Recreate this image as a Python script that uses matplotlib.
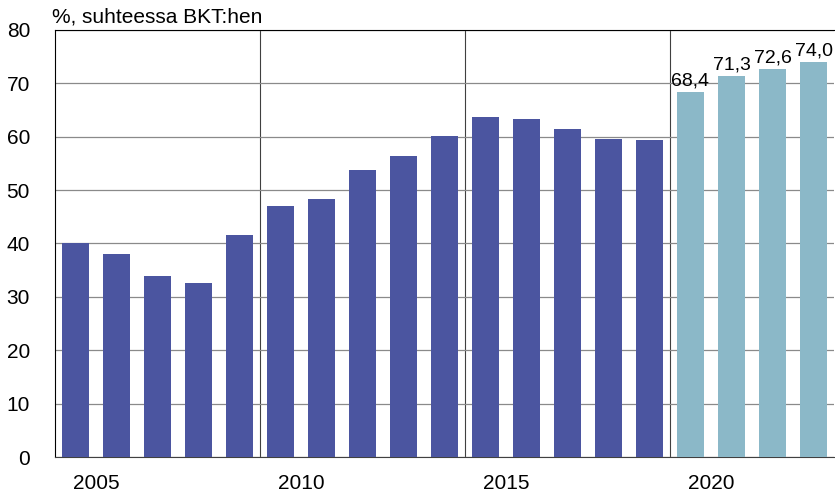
import matplotlib
matplotlib.use("Agg")
import matplotlib.pyplot as plt

years = list(range(2005, 2024))
values = [40.0, 38.0, 33.9, 32.6, 41.6, 47.0, 48.3, 53.7, 56.3, 60.1,
          63.7, 63.3, 61.4, 59.6, 59.4, 68.4, 71.3, 72.6, 74.0]
forecast_start = 2020
tick_years = [2005, 2010, 2015, 2020]
label_texts = ["68,4", "71,3", "72,6", "74,0"]
title = "%, suhteessa BKT:hen"

plt.rcParams['font.family'] = ['Liberation Sans', 'DejaVu Sans']

fig = plt.figure(figsize=(8.35, 4.94), dpi=100)
ax = fig.add_axes([55/835, 37/494, 779/835, 427/494])

dark = "#4B55A0"
light = "#8BB8C8"
xs = list(range(len(years)))
colors = [light if y >= forecast_start else dark for y in years]
ax.bar(xs, values, width=0.68, color=colors, zorder=3)

ax.set_xlim(-0.5, 18.5)
ax.set_ylim(0, 80)
ax.set_yticks(range(0, 81, 10))
ax.yaxis.grid(True, color="#8a8a8a", linewidth=0.9, zorder=0)
ax.tick_params(axis='y', length=0, labelsize=15, pad=18)
ax.set_xticks([])

# vertical separators between year groups
for y in tick_years[1:]:
    ax.axvline(years.index(y) - 0.5, color="#404040", linewidth=0.8, zorder=1)

for y in tick_years:
    i = years.index(y)
    ax.text(i + 0.5, -3.2, str(y), ha='center', va='top', fontsize=15)

for y, t in zip(years[-4:], label_texts):
    i = years.index(y)
    ax.text(i, values[i] + 0.5, t, ha='center', va='bottom', fontsize=14, zorder=4)

ax.spines['right'].set_visible(False)
ax.spines['top'].set_color('black')
ax.spines['left'].set_color('black')
ax.spines['bottom'].set_color('#404040')

fig.text(52/835, 1 - 17/494, title, ha='left', va='center', fontsize=15)

fig.savefig("out.png", dpi=100)
